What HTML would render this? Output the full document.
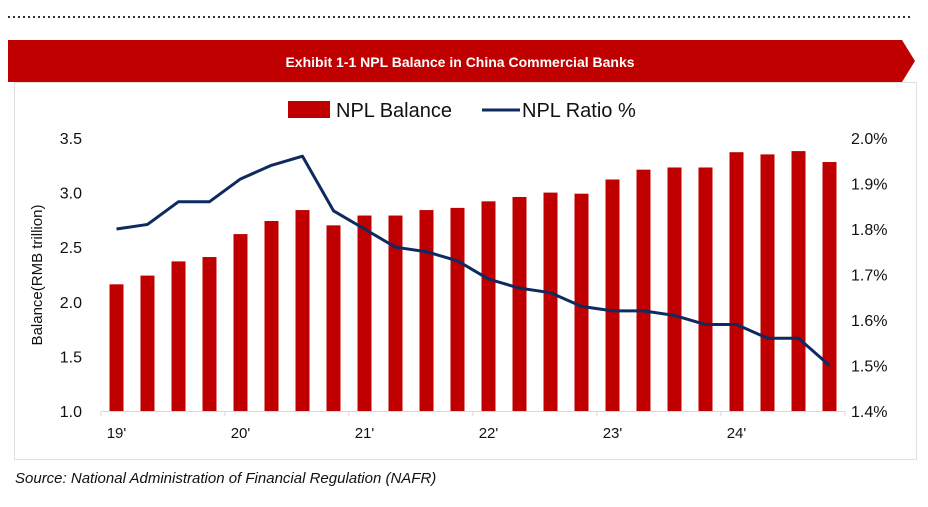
<!DOCTYPE html>
<html><head><meta charset="utf-8"><style>
body{margin:0;background:#fff;width:928px;height:502px;overflow:hidden;font-family:"Liberation Sans",Arial,sans-serif}
</style></head><body>
<svg width="928" height="502">
<line x1="8" y1="17" x2="912" y2="17" stroke="#333" stroke-width="2" stroke-dasharray="2,3"/>
<polygon points="8,40 902,40 915,61 902,82 8,82" fill="#c00000"/>
<text x="460" y="67" text-anchor="middle" fill="#fff" font-weight="bold" font-size="14">Exhibit 1-1 NPL Balance in China Commercial Banks</text>
<rect x="14.5" y="82.5" width="902" height="377" fill="none" stroke="#e0e0e0"/>
<rect x="288" y="101" width="42" height="17" fill="#c00000"/>
<text x="336" y="117" font-size="20" fill="#111">NPL Balance</text>
<line x1="482" y1="110" x2="520" y2="110" stroke="#0e2a5e" stroke-width="3"/>
<text x="522" y="117" font-size="20" fill="#111">NPL Ratio %</text>
<text x="42" y="275" font-size="15" fill="#111" text-anchor="middle" transform="rotate(-90 42 275)">Balance(RMB trillion)</text>
<g id="g"></g>
</svg>
<script>
const balance=[2.16,2.24,2.37,2.41,2.62,2.74,2.84,2.70,2.79,2.79,2.84,2.86,2.92,2.96,3.00,2.99,3.12,3.21,3.23,3.23,3.37,3.35,3.38,3.28];
const ratio=[1.80,1.81,1.86,1.86,1.91,1.94,1.96,1.84,1.80,1.76,1.75,1.73,1.69,1.67,1.66,1.63,1.62,1.62,1.61,1.59,1.59,1.56,1.56,1.50];
const leftTicks=[1.0,1.5,2.0,2.5,3.0,3.5];
const rightTicks=[1.4,1.5,1.6,1.7,1.8,1.9,2.0];
const yearLabels=["19'","20'","21'","22'","23'","24'"];
const NS="http://www.w3.org/2000/svg",g=document.getElementById('g');
const X0=101,X1=845,Y0=411,Y1=138,n=balance.length,step=(X1-X0)/n;
const xc=i=>X0+step*(i+0.5);
const yl=v=>Y0-(v-1.0)/(3.5-1.0)*(Y0-Y1);
const yr=v=>Y0-(v-1.4)/(2.0-1.4)*(Y0-Y1);
function mk(t,a){const e=document.createElementNS(NS,t);for(const k in a)e.setAttribute(k,a[k]);g.appendChild(e);return e;}
leftTicks.forEach(v=>{const t=mk('text',{x:82,y:yl(v)+6,'text-anchor':'end','font-size':16,fill:'#111'});t.textContent=v.toFixed(1);

});
rightTicks.forEach(v=>{const t=mk('text',{x:851,y:yr(v)+6,'font-size':16,fill:'#111'});t.textContent=v.toFixed(1)+'%';

});
balance.forEach((v,i)=>{const r=mk('rect',{x:xc(i)-7,y:yl(v),width:14,height:Y0-yl(v),fill:'#c00000'});

});
const ax=mk('line',{x1:X0,y1:Y0+0.5,x2:X1,y2:Y0+0.5,stroke:'#d9d9d9','stroke-width':1});


for(let k=0;k<=6;k++){const tk=mk('line',{x1:X0+step*4*k,y1:Y0,x2:X0+step*4*k,y2:Y0+5,stroke:'#d9d9d9'});

}
yearLabels.forEach((l,k)=>{const t=mk('text',{x:xc(4*k),y:Y0+27,'text-anchor':'middle','font-size':15,fill:'#111'});t.textContent=l;

});
const p=mk('polyline',{points:ratio.map((v,i)=>xc(i)+','+yr(v)).join(' '),fill:'none',stroke:'#0e2a5e','stroke-width':3,'stroke-linejoin':'round'});


const s=mk('text',{x:15,y:483,'font-size':15,'font-style':'italic',fill:'#111'});s.textContent='Source: National Administration of Financial Regulation  (NAFR)';


</script>
</body></html>
